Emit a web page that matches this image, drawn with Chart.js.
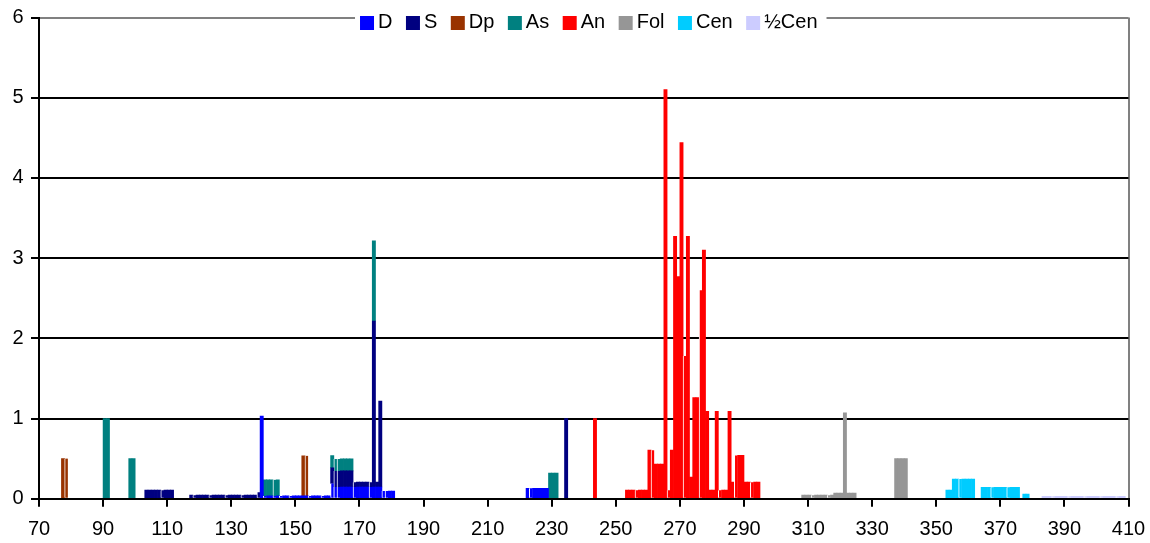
<!DOCTYPE html>
<html lang="en">
<head>
    <meta charset="UTF-8">
    <title>Histograma</title>
    <script src="https://cdn.jsdelivr.net/npm/chart.js"></script>
    <style>
        body {
            margin: 0;
            background-color: #ffffff;
        }

        .grafico {
            width: 1150px;
            height: 543px;
        }
    </style>
</head>
<body>
    <div class="grafico">
        <canvas id="myChart"></canvas>
    </div>

    <script>
        // series, legend order = stacking order (first one at the bottom)
        const series = ['D', 'S', 'Dp', 'As', 'An', 'Fol', 'Cen', '½Cen'];
        const colores = ['#0000ff', '#000080', '#993300', '#008080', '#ff0000', '#969696', '#00ccff', '#ccccff'];

        // each run: [first x, value for x, value for x+1, ...]; every run starts after a thin white gap
        const runsD = [
            [139, 1.03],
            [140, 0.035, 0.035, 0.035],
            [143, 0.035, 0.035],
            [145, 0.035, 0.035, 0.035],
            [148, 0.035, 0.035, 0.035, 0.035, 0.035, 0.035],
            [154, 0.035, 0.035, 0.035, 0.035],
            [158, 0.035, 0.035, 0.035],
            [161, 0.19],
            [162, 0.146],
            [163, 0.146, 0.146, 0.146, 0.146, 0.146],
            [168, 0.146, 0.146, 0.146, 0.146, 0.146],
            [173, 0.146, 0.146, 0.146, 0.146],
            [177, 0.096],
            [178, 0.096, 0.096, 0.096],
            [222, 0.13],
            [223, 0.13, 0.13, 0.13, 0.13, 0.13, 0.13]
        ];
        const runsS = [
            [103, 0.106, 0.106, 0.106, 0.106, 0.106],
            [108, 0.106, 0.106, 0.106, 0.106],
            [117, 0.044],
            [118, 0.044, 0.044, 0.044, 0.044, 0.044],
            [123, 0.044, 0.044, 0.044, 0.044, 0.044],
            [128, 0.044, 0.044, 0.044, 0.044, 0.044],
            [133, 0.044, 0.044, 0.044, 0.044, 0.044],
            [138, 0.081],
            [161, 0.196],
            [162, 0.2],
            [163, 0.2, 0.2, 0.2, 0.2, 0.2],
            [168, 0.06, 0.06, 0.06, 0.06, 0.06],
            [173, 0.06, 2.07, 0.06, 1.07],
            [234, 1.0]
        ];
        const runsDp = [
            [77, 0.5],
            [78, 0.5],
            [152, 0.5],
            [153, 0.5]
        ];
        const runsAs = [
            [90, 1.0, 1.0],
            [98, 0.5, 0.5],
            [140, 0.2, 0.2, 0.2],
            [143, 0.2, 0.2],
            [161, 0.15],
            [162, 0.15],
            [163, 0.15, 0.15, 0.15, 0.15, 0.15],
            [174, 1.0],
            [229, 0.32, 0.32, 0.32]
        ];
        const runsAn = [
            [243, 1.0],
            [253, 0.106, 0.106, 0.106],
            [256, 0.106, 0.106, 0.106, 0.106, 0.605],
            [261, 0.605, 0.43, 0.43, 0.43, 5.1],
            [266, 0.106, 0.605, 3.27, 2.77, 4.44],
            [271, 1.78, 3.27, 0.27, 1.26, 1.26],
            [276, 2.6, 3.1, 1.09, 0.106, 0.106, 1.09],
            [282, 0.106, 0.106, 0.106, 1.09, 0.206],
            [287, 0.54, 0.54, 0.54, 0.206, 0.206],
            [292, 0.206, 0.206, 0.206]
        ];
        const runsFol = [
            [308, 0.044, 0.044, 0.044],
            [311, 0.044, 0.044, 0.044, 0.044, 0.044],
            [316, 0.044, 0.044, 0.069, 0.069, 0.069, 1.07, 0.069, 0.069, 0.069],
            [337, 0.5, 0.5, 0.5, 0.5]
        ];
        const runsCen = [
            [353, 0.106, 0.106, 0.245, 0.245],
            [357, 0.245, 0.245, 0.245, 0.245, 0.245],
            [364, 0.143, 0.143, 0.143],
            [367, 0.143, 0.143, 0.143, 0.143, 0.143],
            [372, 0.143, 0.143, 0.143, 0.143],
            [377, 0.056, 0.056]
        ];
        const runsMedioCen = [
            [383, 0.03, 0.03, 0.03],
            [386, 0.03, 0.03, 0.03, 0.03, 0.03],
            [391, 0.03, 0.03, 0.03, 0.03, 0.03],
            [396, 0.03, 0.03, 0.03, 0.03, 0.03],
            [401, 0.03, 0.03, 0.03, 0.03, 0.03],
            [406, 0.03, 0.03, 0.03]
        ];

        // axis ranges and tick steps
        const xMin = 70, xMax = 410, xPaso = 20;
        const yMin = 0, yMax = 6, yPaso = 1;

        const todosRuns = [runsD, runsS, runsDp, runsAs, runsAn, runsFol, runsCen, runsMedioCen];

        // one bar per unit step, centred in its step
        const aBarras = (runs) => {
            const lleno = new Set();
            runs.forEach(run => run.slice(1).forEach((v, k) => lleno.add(run[0] + k)));
            const pts = [];
            runs.forEach(run => {
                run.slice(1).forEach((v, k) => {
                    const x = run[0] + k;
                    pts.push({ x: x + 0.5, y: v, gap: k === 0 && lleno.has(x - 1) });
                });
            });
            return pts;
        };

        const datasets = series.map((nombre, i) => ({
            label: nombre,
            data: aBarras(todosRuns[i]),
            backgroundColor: colores[i],
            borderColor: '#ffffff',
            borderWidth: ctx => (ctx.raw && ctx.raw.gap) ? { left: 1, right: 0, top: 0, bottom: 0 } : 0,
            barPercentage: 1,
            categoryPercentage: 1,
            inflateAmount: 0.35
        }));

        // legend drawn across the top border, on a white box
        const leyenda = {
            id: 'leyenda',
            afterDraw(chart) {
                const ctx = chart.ctx;
                const area = chart.chartArea;
                const caja = 14, sep = 4, hueco = 13.5;
                ctx.save();
                ctx.font = '20px "Liberation Sans", Arial, sans-serif';
                const anchos = chart.data.datasets.map(ds => ctx.measureText(ds.label).width);
                const total = anchos.reduce((a, w) => a + caja + sep + w, 0) + hueco * (anchos.length - 1);
                let x = (area.left + area.right) / 2 + 5 - total / 2;
                ctx.fillStyle = '#ffffff';
                ctx.fillRect(x - 5, area.top - 8, total + 14, 25);
                ctx.textBaseline = 'middle';
                ctx.textAlign = 'left';
                chart.data.datasets.forEach((ds, i) => {
                    ctx.fillStyle = ds.backgroundColor;
                    ctx.fillRect(x, area.top - 1.5, caja, caja);
                    ctx.fillStyle = '#000000';
                    ctx.fillText(ds.label, x + caja + sep, area.top + 4.5);
                    x += caja + sep + anchos[i] + hueco;
                });
                ctx.restore();
            }
        };

        Chart.defaults.font.family = '"Liberation Sans", Arial, sans-serif';
        Chart.defaults.font.size = 20;
        Chart.defaults.color = '#000000';

        var ctx = document.getElementById('myChart');

        var myChart = new Chart(ctx, {
            type: 'bar',
            data: { datasets: datasets },
            plugins: [leyenda],
            options: {
                responsive: true,
                maintainAspectRatio: false,
                animation: false,
                layout: {
                    padding: { left: 4.9, right: 21.5, top: 17.5, bottom: 0 }
                },
                plugins: {
                    legend: { display: false },
                    tooltip: { enabled: false }
                },
                scales: {
                    x: {
                        type: 'linear',
                        min: xMin,
                        max: xMax,
                        offset: false,
                        stacked: true,
                        afterFit: s => { s.height = 44.3; },
                        ticks: {
                            stepSize: xPaso, maxRotation: 0, autoSkip: false, padding: 4,
                            font: { size: 20, lineHeight: 1.88 }
                        },
                        grid: {
                            offset: false,
                            drawOnChartArea: true,
                            color: c => (c.tick && c.tick.value === xMax) ? '#808080' : 'rgba(0,0,0,0)',
                            lineWidth: 2,
                            tickLength: 8,
                            tickColor: '#000000',
                            tickWidth: 2
                        },
                        border: { color: '#000000', width: 2 }
                    },
                    y: {
                        min: yMin,
                        max: yMax,
                        stacked: true,
                        ticks: { stepSize: yPaso, padding: 7.5, font: { size: 20, lineHeight: 1 } },
                        grid: {
                            color: c => (c.tick && c.tick.value === yMax) ? '#808080' : '#000000',
                            lineWidth: 2,
                            tickLength: 8,
                            tickColor: '#000000',
                            tickWidth: 2
                        },
                        border: { color: '#000000', width: 2 }
                    }
                }
            }
        });
    </script>
</body>
</html>
